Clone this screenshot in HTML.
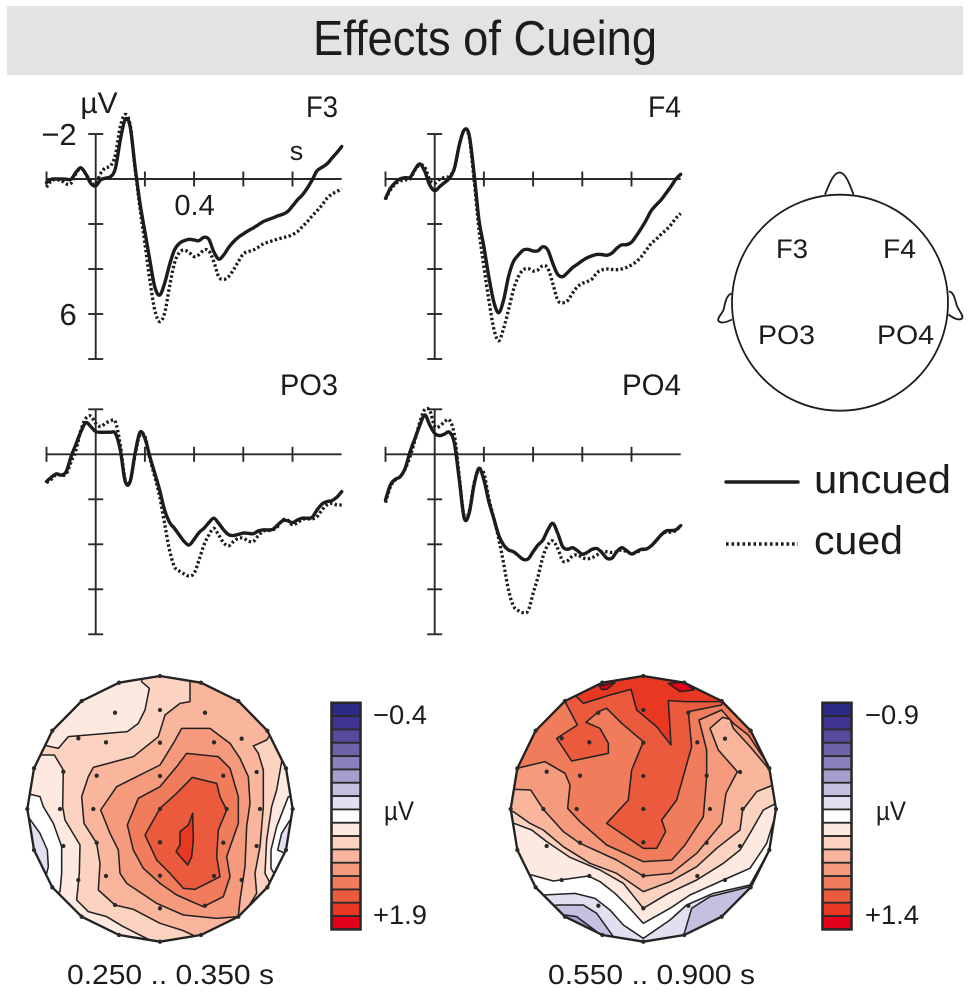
<!DOCTYPE html>
<html lang="en">
<head>
<meta charset="utf-8">
<title>Effects of Cueing</title>
<style>
html,body{margin:0;padding:0;background:#fff;}
svg{display:block;}
text{font-family:"Liberation Sans",sans-serif;fill:#1c1c1c;}
.lbl{font-size:27px;}
.contours polygon{stroke:#222;stroke-width:4.6;stroke-linejoin:round;}
.cell{stroke:#2a2a2a;stroke-width:1.8;}
.dots{fill:none;stroke:#2a2a2a;stroke-width:13;stroke-linecap:round;}
.rim{fill:none;stroke:#222;stroke-width:7;stroke-linejoin:round;}
</style>
</head>
<body>
<svg id="fig" xmlns="http://www.w3.org/2000/svg" width="970" height="992" viewBox="0 0 970 992">
  <defs>
    <clipPath id="clip1"><polygon points="450,48 573,68 685,123 772,212 828,325 848,447 828,570 772,682 685,770 573,825 450,845 327,825 215,770 127,682 72,570 52,447 72,325 127,212 215,123 327,68"/></clipPath>
    <clipPath id="clip2"><polygon points="430,48 553,68 665,123 752,212 808,325 828,447 808,570 752,682 665,770 553,825 430,845 307,825 195,770 107,682 52,570 32,447 52,325 107,212 195,123 307,68"/></clipPath>
  </defs>

  <rect x="7" y="6" width="956" height="69" fill="#e3e3e3"/>
  <text x="313" y="55" font-size="49" textLength="344" lengthAdjust="spacingAndGlyphs">Effects of Cueing</text>

  <g id="panels"></g>

  <g fill="none" stroke="#1c1c1c" stroke-width="1.8">
    <circle cx="840" cy="302.7" r="108"/>
    <path d="M825,194.5 C830,182 834,172.5 839.5,172.5 C845,172.5 849,182 853.5,194.5"/>
    <path d="M731.7,293.5 C726,295 725,304 723.5,310 C721,315 717,318 718.5,321 C721,324 727,322 732,319.5"/>
    <path d="M949,291.5 C954,292 955,300 957,306 C959,311 964,316 962,318.5 C959,321 953,318 948.5,314.5"/>
  </g>
  <text class="lbl" x="776" y="258" textLength="32" lengthAdjust="spacingAndGlyphs">F3</text>
  <text class="lbl" x="883" y="258" textLength="33" lengthAdjust="spacingAndGlyphs">F4</text>
  <text class="lbl" x="758" y="344" textLength="57" lengthAdjust="spacingAndGlyphs">PO3</text>
  <text class="lbl" x="877" y="344" textLength="57" lengthAdjust="spacingAndGlyphs">PO4</text>

  <line x1="726" y1="482" x2="798" y2="482" stroke="#1c1c1c" stroke-width="3.4" stroke-linecap="round"/>
  <text x="814" y="493" font-size="40" textLength="137" lengthAdjust="spacingAndGlyphs">uncued</text>
  <line x1="726" y1="544" x2="798" y2="544" stroke="#1c1c1c" stroke-width="3.6" stroke-dasharray="2.6 2.9"/>
  <text x="814" y="554" font-size="40" textLength="89" lengthAdjust="spacingAndGlyphs">cued</text>

  <!-- Topographic map 1 -->
  <g transform="translate(10,660) scale(0.33333)">
    <g clip-path="url(#clip1)" class="contours">
      <polygon fill="#fcd2c0" points="0,0 900,0 900,900 0,900"/>
      <polygon fill="#fde9df" points="395,65 418,85 405,150 385,190 352,215 175,230 145,265 100,255 60,250 100,100 395,20"/>
      <polygon fill="#fde9df" points="100,285 133,285 160,330 158,440 165,480 210,555 208,640 200,720 235,755 290,770 340,800 415,838 420,900 0,900 0,285"/>
      <polygon fill="#ffffff" points="62,403 90,410 100,440 130,490 155,560 155,640 150,695 100,720 0,600 0,403"/>
      <polygon fill="#e2e0f0" points="58,475 90,520 112,570 115,620 110,640 60,600 30,475"/>
      <polygon fill="#fde9df" points="815,305 800,390 785,440 770,540 765,640 780,670 800,720 900,600 900,305"/>
      <polygon fill="#ffffff" points="835,410 800,500 783,570 783,625 795,645 900,600 900,410"/>
      <polygon fill="#e2e0f0" points="840,480 815,520 803,570 825,580 880,520"/>
      <polygon fill="#f9b69c" points="540,40 540,125 510,130 465,165 445,230 370,290 250,322 235,350 215,410 222,490 260,550 270,610 265,690 315,735 370,748 450,790 520,812 580,840 640,800 700,765 740,700 735,640 750,560 760,440 760,330 745,280 730,258 770,240 780,225 800,190 685,60"/>
      <polygon fill="#f59a7c" points="515,205 600,205 660,250 690,295 715,350 720,430 710,500 705,620 690,720 685,770 620,775 520,765 440,730 350,670 330,640 325,570 300,520 272,450 320,380 450,315 490,250"/>
      <polygon fill="#f17c5c" points="530,280 625,290 660,325 685,410 685,490 650,590 660,650 640,710 580,740 500,705 450,670 400,625 370,570 352,495 385,415 450,380 500,320"/>
      <polygon fill="#ec5a3e" points="547,352 620,370 630,410 650,450 625,510 620,590 630,650 555,688 520,685 480,640 440,600 405,525 450,445 500,400"/>
      <polygon fill="#e83822" points="548,460 550,540 545,590 533,615 498,575 510,555 510,515 535,495"/>
    </g>
    <polygon class="rim" points="450,48 573,68 685,123 772,212 828,325 848,447 828,570 772,682 685,770 573,825 450,845 327,825 215,770 127,682 72,570 52,447 72,325 127,212 215,123 327,68"/>
    <path class="dots" d="M315 158h0M450 150h0M585 158h0M205 235h0M288 247h0M450 248h0M612 247h0M695 236h0M160 335h0M260 347h0M450 348h0M640 347h0M740 336h0M150 447h0M250 447h0M450 447h0M650 447h0M750 447h0M160 558h0M260 548h0M450 547h0M640 548h0M740 558h0M205 660h0M288 648h0M450 647h0M612 648h0M695 660h0M315 735h0M450 745h0M585 737h0M450 48h0M573 68h0M685 123h0M772 212h0M828 325h0M848 447h0M828 570h0M772 682h0M685 770h0M573 825h0M450 845h0M327 825h0M215 770h0M127 682h0M72 570h0M52 447h0M72 325h0M127 212h0M215 123h0M327 68h0"/>
  </g>

  <!-- Topographic map 2 -->
  <g transform="translate(500,660) scale(0.33333)">
    <g clip-path="url(#clip2)" class="contours">
      <polygon fill="#e2e0f0" points="0,0 900,0 900,900 0,900"/>
      <polygon fill="#c5c0e0" points="175,735 250,735 290,760 340,830 320,900 100,800 130,740"/>
      <polygon fill="#a79fcd" points="195,765 230,770 290,815 307,850 150,800"/>
      <polygon fill="#c5c0e0" points="550,830 575,745 630,710 750,680 800,700 650,880"/>
      <polygon fill="#ffffff" points="130,705 225,700 285,715 330,750 370,795 430,835 510,780 560,735 640,700 750,675 808,570 900,570 900,0 0,0 0,705"/>
      <polygon fill="#fde9df" points="95,645 160,663 265,648 300,665 345,700 380,735 430,790 510,745 570,705 670,660 750,625 800,550 822,480 900,480 900,0 0,0 0,645"/>
      <polygon fill="#fcd2c0" points="42,490 95,510 140,545 210,592 300,630 370,670 430,745 505,700 590,660 670,610 720,570 750,520 790,450 828,430 900,430 900,0 0,0 0,490"/>
      <polygon fill="#f9b69c" points="40,455 90,490 130,510 190,560 270,610 350,640 430,695 510,665 590,620 650,565 720,510 728,450 770,395 812,378 900,378 900,0 0,0 0,455"/>
      <polygon fill="#f59a7c" points="45,388 92,390 130,448 190,515 240,550 350,600 430,648 515,640 590,580 665,490 678,400 712,335 655,270 630,205 668,172 690,178 700,205 750,260 805,325 900,325 900,0 0,0 0,388"/>
      <polygon fill="#f17c5c" points="50,325 135,305 195,340 210,375 203,445 240,485 320,555 430,605 515,600 555,555 610,470 620,350 620,270 597,180 665,150 700,190 745,225 808,320 900,320 900,0 0,0 0,345"/>
      <polygon fill="#ec5a3e" points="195,125 232,195 170,235 215,303 325,280 325,250 300,205 258,187 295,155 320,145 365,190 430,245 395,330 385,420 320,490 430,565 470,565 497,515 485,480 530,420 575,260 565,155 665,135 720,0 150,0"/>
      <polygon fill="#e83822" points="235,115 250,130 330,105 393,88 410,150 470,200 513,255 505,122 555,125 665,125 800,0 100,0"/>
      <polygon fill="#e2001a" points="298,78 345,68 320,88 305,88"/>
      <polygon fill="#e2001a" points="505,70 555,66 582,90 540,95"/>
    </g>
    <polygon class="rim" points="430,48 553,68 665,123 752,212 808,325 828,447 808,570 752,682 665,770 553,825 430,845 307,825 195,770 107,682 52,570 32,447 52,325 107,212 195,123 307,68"/>
    <path class="dots" d="M295 158h0M430 150h0M565 158h0M185 235h0M268 247h0M430 248h0M592 247h0M675 236h0M140 335h0M240 347h0M430 348h0M620 347h0M720 336h0M130 447h0M230 447h0M430 447h0M630 447h0M728 447h0M140 558h0M240 548h0M430 547h0M620 548h0M720 558h0M185 660h0M268 648h0M430 647h0M592 648h0M675 660h0M295 737h0M430 745h0M565 737h0M430 48h0M553 68h0M665 123h0M752 212h0M808 325h0M828 447h0M808 570h0M752 682h0M665 770h0M553 825h0M430 845h0M307 825h0M195 770h0M107 682h0M52 570h0M32 447h0M52 325h0M107 212h0M195 123h0M307 68h0"/>
  </g>

  <g id="bars"></g>

  <text class="lbl" x="373" y="724" textLength="54" lengthAdjust="spacingAndGlyphs">−0.4</text>
  <text class="lbl" x="384" y="820" textLength="30" lengthAdjust="spacingAndGlyphs">µV</text>
  <text class="lbl" x="373" y="924" textLength="54" lengthAdjust="spacingAndGlyphs">+1.9</text>
  <text class="lbl" x="865" y="724" textLength="54" lengthAdjust="spacingAndGlyphs">−0.9</text>
  <text class="lbl" x="876" y="820" textLength="30" lengthAdjust="spacingAndGlyphs">µV</text>
  <text class="lbl" x="865" y="924" textLength="54" lengthAdjust="spacingAndGlyphs">+1.4</text>

  <text x="67" y="984" font-size="28" textLength="207" lengthAdjust="spacingAndGlyphs">0.250 .. 0.350 s</text>
  <text x="548" y="984" font-size="28" textLength="207" lengthAdjust="spacingAndGlyphs">0.550 .. 0.900 s</text>
</svg>

<script>
// Shared sampling times (ms)
const timesMs = [-200,-180,-160,-140,-120,-100,-80,-60,-40,-20,0,20,40,60,80,100,120,140,160,180,200,220,240,260,280,300,320,340,360,380,400,420,440,460,480,500,520,540,560,580,600,620,640,660,680,700,720,740,760,780,800,820,840,860,880,900,920,940,960,980,1000];

// Amplitudes (µV, negative up)
const f3Uncued = [.16,.01,0,0,.01,.01,-.30,-.50,-.22,.19,.31,.04,-.04,-.10,-.47,-1.73,-2.65,-2.33,-.55,1.08,2.34,3.60,4.79,5.16,4.64,3.82,3.16,2.86,2.74,2.68,2.71,2.74,2.59,2.68,3.23,3.56,3.38,3.05,2.79,2.59,2.44,2.30,2.18,2.04,1.90,1.81,1.73,1.64,1.57,1.45,1.20,.93,.71,.41,.04,-.37,-.52,-.67,-.92,-1.17,-1.44];
const f3Cued = [.37,.07,.04,.07,.22,.19,-.25,-.47,-.22,.12,.22,-.25,-.50,-.58,-1.07,-2.33,-2.87,-2.40,-.47,1.30,2.86,4.49,5.82,6.34,5.97,4.79,3.75,3.27,3.16,3.27,3.45,3.36,3.16,3.19,3.67,4.34,4.46,4.34,4.04,3.67,3.33,3.23,3.16,3.04,2.89,2.81,2.74,2.67,2.61,2.56,2.47,2.34,2.12,1.90,1.64,1.41,1.16,.86,.67,.56,.43];
const f4Uncued = [.86,.41,.16,-.01,-.06,-.07,-.43,-.67,-.33,.27,.52,.34,.16,-.03,-.47,-1.51,-2.18,-1.96,-.25,1.82,3.01,4.34,5.45,5.94,5.38,4.34,3.67,3.38,3.16,3.13,3.20,3.19,3.01,3.16,3.75,4.24,4.34,4.16,3.94,3.79,3.63,3.50,3.41,3.35,3.36,3.39,3.30,3.08,2.93,2.92,2.81,2.52,2.19,1.82,1.41,1.16,.93,.64,.34,.01,-.21];
const f4Cued = [.90,.49,.22,.09,.04,0,-.40,-.62,-.52,.04,.19,.01,-.07,-.13,-.47,-1.51,-2.18,-1.88,.04,2.27,3.90,5.38,6.64,7.19,6.64,5.82,4.93,4.34,4.04,3.98,4.09,4.04,3.85,3.97,4.64,5.38,5.50,5.41,5.08,4.79,4.64,4.56,4.44,4.16,4.04,4.00,4.02,4.03,4.00,3.93,3.82,3.67,3.45,3.16,2.87,2.68,2.46,2.27,2.04,1.75,1.53];
const po3Uncued = [1.21,1.02,.87,.92,.77,.10,-.46,-1.01,-1.41,-1.23,-1.01,-.98,-.98,-.98,-.93,-.19,1.21,1.21,-.04,-.98,-.71,.10,.84,1.59,2.47,3.02,3.29,3.59,3.88,4.03,3.78,3.48,3.29,3.04,2.84,3.07,3.36,3.57,3.61,3.56,3.50,3.51,3.53,3.41,3.36,3.36,3.33,3.14,2.95,2.95,3.04,2.92,2.84,2.84,2.80,2.47,2.21,2.10,2.06,1.91,1.66];
const po3Cued = [1.26,1.11,.90,.93,.87,.33,-.19,-1.08,-1.60,-1.70,-1.38,-1.23,-1.38,-1.48,-1.45,-.41,1.14,1.21,.03,-.86,-.79,.18,.99,1.88,3.07,4.25,4.99,5.19,5.32,5.41,5.29,4.70,4.03,3.59,3.29,3.59,3.93,4.07,3.88,3.73,3.73,3.85,3.88,3.63,3.42,3.39,3.36,3.21,2.92,2.92,3.14,3.04,2.89,2.87,2.87,2.77,2.47,2.25,2.18,2.25,2.25];
const po4Uncued = [2.03,1.36,1.11,.99,.62,-.12,-.71,-1.30,-1.75,-1.30,-.93,-.83,-.90,-.98,-.49,1.14,2.84,2.62,1.36,.62,1.14,2.10,2.84,3.59,4.03,4.25,4.33,4.50,4.67,4.65,4.33,4.03,3.81,3.36,3.07,3.51,4.10,4.22,4.15,4.28,4.44,4.36,4.22,4.19,4.37,4.62,4.62,4.33,4.15,4.28,4.43,4.33,4.22,4.21,4.07,3.84,3.59,3.41,3.39,3.36,3.17];
const po4Cued = [2.15,1.44,1.14,.99,.65,.10,-.64,-1.45,-2.00,-1.94,-1.24,-1.24,-1.45,-1.52,-.86,1.00,2.77,2.55,1.29,.70,.85,1.96,2.84,3.73,4.84,6.03,6.74,6.95,7.04,6.95,6.18,5.44,4.55,4.03,3.85,4.18,4.73,4.73,4.52,4.47,4.59,4.65,4.59,4.47,4.33,4.33,4.36,4.33,4.25,4.33,4.41,4.36,4.25,4.21,4.07,3.84,3.59,3.46,3.46,3.39,3.17];

// Tick values and labels
const xTickValuesMs = [-200,200,400,600,800];
const yTickValues = [-2,2,4,6,8];
const xTickLabels = ['0.4'];
const xTickLabelValues = [400];
const yTickLabels = ['−2','6'];
const yTickLabelValues = [-2,6];

// Colour scale, top to bottom of each colour bar
const colorLevels = ['#2b2a86','#3f3591','#554a9c','#6e62a9','#8a80bb','#a79fcd','#c5c0e0','#e2e0f0','#ffffff','#fde9df','#fcd2c0','#f9b69c','#f59a7c','#f17c5c','#ec5a3e','#e83822','#e2001a'];

const NS = 'http://www.w3.org/2000/svg';
const panelsRoot = document.getElementById('panels');
const barsRoot = document.getElementById('bars');

function make(tag, attrs, parent) {
  const el = document.createElementNS(NS, tag);
  for (const k in attrs) el.setAttribute(k, attrs[k]);
  parent.appendChild(el);
  return el;
}
function axisX(x0, ms) { return x0 + ms * 0.246; }
function axisY(y0, uv) { return y0 + uv * 22.5; }

function splinePath(x0, y0, values) {
  const pts = values.map((v, i) => [axisX(x0, timesMs[i]), axisY(y0, v)]);
  let d = 'M' + pts[0][0].toFixed(2) + ',' + pts[0][1].toFixed(2);
  for (let i = 0; i < pts.length - 1; i++) {
    const p0 = pts[Math.max(i - 1, 0)], p1 = pts[i], p2 = pts[i + 1], p3 = pts[Math.min(i + 2, pts.length - 1)];
    const c1x = p1[0] + (p2[0] - p0[0]) / 6, c1y = p1[1] + (p2[1] - p0[1]) / 6;
    const c2x = p2[0] - (p3[0] - p1[0]) / 6, c2y = p2[1] - (p3[1] - p1[1]) / 6;
    d += 'C' + c1x.toFixed(2) + ',' + c1y.toFixed(2) + ' ' + c2x.toFixed(2) + ',' + c2y.toFixed(2) + ' ' + p2[0].toFixed(2) + ',' + p2[1].toFixed(2);
  }
  return d;
}

function drawPanel(key, title, x0, y0, titleX, titleY, titleWidth, uncued, cued, labelled) {
  const g = make('g', {}, panelsRoot);
  
  
  const axisStyle = { stroke: '#2a2a2a', 'stroke-width': 1.9, fill: 'none' };

  const xAxis = make('line', Object.assign({ x1: axisX(x0, -200), y1: y0, x2: axisX(x0, 1000), y2: y0 }, axisStyle), g);
  
  
  const yAxis = make('line', Object.assign({ x1: x0, y1: axisY(y0, -2), x2: x0, y2: axisY(y0, 8) }, axisStyle), g);
  
  

  xTickValuesMs.forEach(ms => {
    const t = make('line', Object.assign({ x1: axisX(x0, ms), y1: y0 - 7.5, x2: axisX(x0, ms), y2: y0 + 7.5 }, axisStyle), g);
    
    
  });
  yTickValues.forEach(v => {
    const t = make('line', Object.assign({ x1: x0 - 7.5, y1: axisY(y0, v), x2: x0 + 7.5, y2: axisY(y0, v) }, axisStyle), g);
    
    
  });

  const cuedLine = make('path', { d: splinePath(x0, y0, cued), fill: 'none', stroke: '#1c1c1c', 'stroke-width': 3.3, 'stroke-dasharray': '2.4 2.4', 'stroke-linejoin': 'round' }, g);
  
  
  const uncuedLine = make('path', { d: splinePath(x0, y0, uncued), fill: 'none', stroke: '#1c1c1c', 'stroke-width': 3.4, 'stroke-linejoin': 'round', 'stroke-linecap': 'round' }, g);
  
  

  const titleEl = make('text', { x: titleX - titleWidth, y: titleY, 'font-size': 30, textLength: titleWidth, lengthAdjust: 'spacingAndGlyphs' }, g);
  titleEl.textContent = title;
  
  

  if (labelled) {
    yTickLabels.forEach((s, i) => {
      const t = make('text', { x: x0 - 19, y: axisY(y0, yTickLabelValues[i]) + 11, 'font-size': 31, 'text-anchor': 'end' }, g);
      t.textContent = s;
      
      
    });
    xTickLabels.forEach((s, i) => {
      const t = make('text', { x: axisX(x0, xTickLabelValues[i]) + 0.5, y: y0 + 36, 'font-size': 29, 'text-anchor': 'middle' }, g);
      t.textContent = s;
      
      
    });
    const unitY = make('text', { x: 99, y: 113, 'font-size': 30, 'text-anchor': 'middle' }, g);
    unitY.textContent = 'µV';
    
    
    const unitX = make('text', { x: 296.5, y: 160, 'font-size': 27, 'text-anchor': 'middle' }, g);
    unitX.textContent = 's';
    
    
  }
}

drawPanel('f3', 'F3', 95.7, 179, 338, 117, 32, f3Uncued, f3Cued, true);
drawPanel('f4', 'F4', 434.7, 179, 681, 117, 33, f4Uncued, f4Cued, false);
drawPanel('po3', 'PO3', 95.7, 454.3, 338, 395, 58, po3Uncued, po3Cued, false);
drawPanel('po4', 'PO4', 434.7, 454.3, 681, 395, 59, po4Uncued, po4Cued, false);

function drawBar(key, x) {
  const g = make('g', {}, barsRoot);
  
  
  const cellH = 13.33, top = 702.8;
  colorLevels.forEach((c, i) => {
    const r = make('rect', { class: 'cell', x: x, y: top + i * cellH, width: 29, height: cellH, fill: c }, g);
    
    
  });
  const frame = make('rect', { x: x, y: top, width: 29, height: cellH * colorLevels.length, fill: 'none', stroke: '#2a2a2a', 'stroke-width': 2.6 }, g);
  
  
}
drawBar('colorbar-early', 331.5);
drawBar('colorbar-late', 822.5);
</script>
</body>
</html>
